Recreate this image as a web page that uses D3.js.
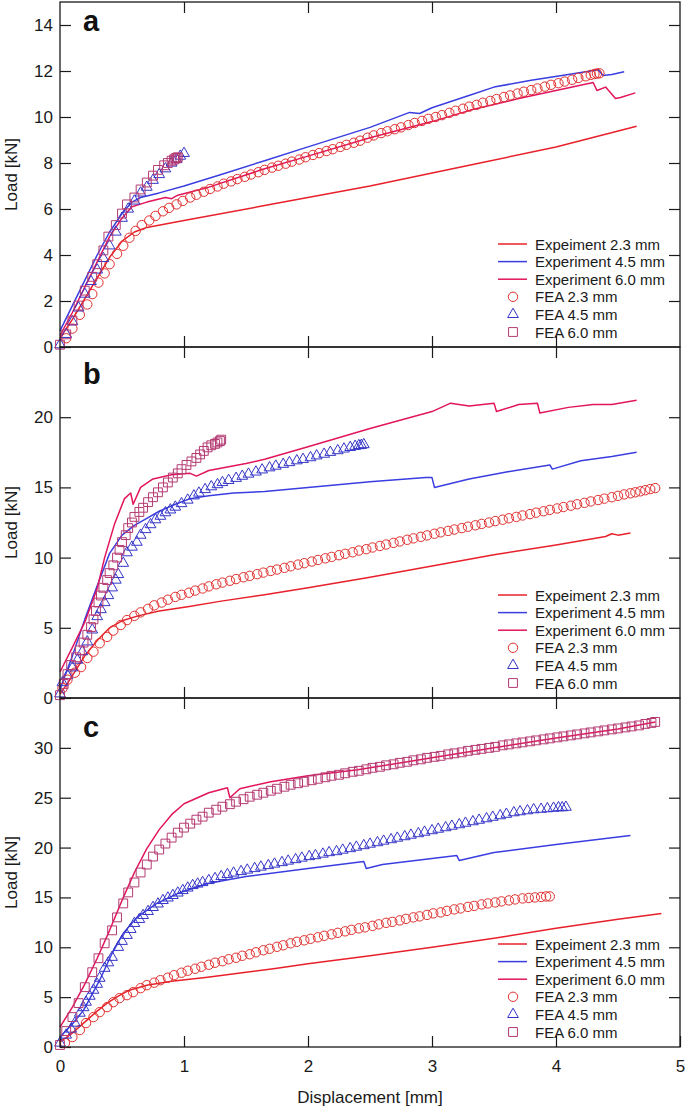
<!DOCTYPE html>
<html lang="en">
<head>
<meta charset="UTF-8">
<title>Load vs displacement</title>
<script src="https://d3js.org/d3.v7.min.js"></script>
<style>
  body { margin: 0; background: #fff; }
  svg { display: block; font-family: "Liberation Sans", Arial, sans-serif; }
  .tick text { font-size: 17px; fill: #1a1a1a; }
  .tick line { stroke: #1a1a1a; stroke-width: 1.2; }
</style>
</head>
<body>
<div id="chart"></div>
<script>
// ---- data ----
const legendLabels = ['Expeiment 2.3 mm', 'Experiment 4.5 mm', 'Experiment 6.0 mm', 'FEA 2.3 mm', 'FEA 4.5 mm', 'FEA 6.0 mm'];
const xTicks = [0, 1, 2, 3, 4, 5];
const panelNames = ['a', 'b', 'c'];
const yMax = [15, 25, 35];
const yTicksA = [0, 2, 4, 6, 8, 10, 12, 14];
const yTicksB = [0, 5, 10, 15, 20];
const yTicksC = [0, 5, 10, 15, 20, 25, 30];

// panel a
const aExp23 = [[0,0.4],[0.1,1.2],[0.2,2.1],[0.3,3.0],[0.4,3.9],[0.5,4.6],[0.6,5.0],[0.7,5.2],[1.0,5.5],[1.65,6.15],[2.5,7.0],[3.3,7.9],[4.0,8.7],[4.65,9.6]];
const aExp45 = [[0,0.7],[0.1,1.8],[0.2,2.9],[0.3,4.0],[0.4,5.0],[0.5,5.8],[0.58,6.3],[0.65,6.5],[0.8,6.7],[1.0,7.0],[1.3,7.5],[1.65,8.1],[2.0,8.7],[2.5,9.55],[2.82,10.2],[2.9,10.15],[3.0,10.4],[3.31,10.96],[3.5,11.3],[3.8,11.6],[4.1,11.85],[4.34,12.05],[4.38,11.8],[4.45,11.85],[4.55,11.97]];
const aExp60 = [[0,0.5],[0.1,1.5],[0.2,2.6],[0.3,3.7],[0.4,4.8],[0.5,5.6],[0.58,6.1],[0.7,6.3],[0.85,6.5],[0.9,6.45],[0.95,6.6],[1.2,6.95],[1.65,7.75],[2.0,8.3],[2.5,9.1],[3.0,9.8],[3.31,10.3],[3.7,10.8],[4.0,11.15],[4.3,11.5],[4.33,11.15],[4.4,11.3],[4.48,10.8],[4.52,10.85],[4.64,11.05]];
const aFea23 = [[0.05,0.38],[0.10,0.8],[0.16,1.4],[0.22,1.85],[0.26,2.3],[0.31,2.8],[0.36,3.2],[0.40,3.6],[0.46,4.05],[0.51,4.4],[0.56,4.75],[0.61,5.05],[0.66,5.3],[0.72,5.5],[0.77,5.7],[0.83,5.9],[0.88,6.05],[0.94,6.2],[0.99,6.35],[1.05,6.5],[1.10,6.62],[1.16,6.75],[1.21,6.87],[1.27,6.98],[1.32,7.1],[1.38,7.2],[1.43,7.3],[1.49,7.4],[1.54,7.5],[1.60,7.6],[1.65,7.7],[1.71,7.8],[1.76,7.88],[1.82,7.97],[1.87,8.06],[1.93,8.15],[1.98,8.25],[2.04,8.35],[2.09,8.43],[2.15,8.52],[2.20,8.6],[2.26,8.7],[2.31,8.79],[2.37,8.88],[2.42,8.97],[2.48,9.1],[2.53,9.2],[2.59,9.3],[2.64,9.38],[2.70,9.47],[2.75,9.55],[2.81,9.65],[2.86,9.74],[2.92,9.83],[2.97,9.92],[3.03,10.0],[3.08,10.08],[3.14,10.18],[3.19,10.27],[3.25,10.36],[3.30,10.45],[3.36,10.53],[3.41,10.62],[3.47,10.7],[3.52,10.78],[3.58,10.87],[3.63,10.94],[3.69,11.02],[3.74,11.1],[3.80,11.17],[3.85,11.24],[3.91,11.32],[3.96,11.4],[4.02,11.47],[4.07,11.54],[4.13,11.62],[4.18,11.7],[4.24,11.77],[4.28,11.83],[4.31,11.87],[4.33,11.89],[4.35,11.9]];
const aFea45 = [[0,0.1],[0.05,0.55],[0.1,1.1],[0.15,1.7],[0.2,2.3],[0.25,2.85],[0.3,3.35],[0.35,3.85],[0.4,4.4],[0.45,5.0],[0.5,5.6],[0.55,6.0],[0.6,6.35],[0.65,6.7],[0.7,6.95],[0.75,7.25],[0.8,7.5],[0.85,7.75],[0.9,8.0],[0.94,8.15],[0.97,8.3],[1.0,8.42]];
const aFea60 = [[0,0.1],[0.05,0.55],[0.1,1.15],[0.15,1.8],[0.2,2.45],[0.26,3.05],[0.3,3.6],[0.35,4.2],[0.39,4.8],[0.45,5.3],[0.5,5.8],[0.54,6.2],[0.6,6.5],[0.65,6.85],[0.7,7.15],[0.75,7.45],[0.79,7.7],[0.84,7.9],[0.87,8.0],[0.9,8.1],[0.92,8.15],[0.93,8.2],[0.94,8.22],[0.95,8.25]];

// panel b
const bExp23 = [[0,0.3],[0.05,0.9],[0.1,1.6],[0.2,3.0],[0.3,4.1],[0.4,5.0],[0.5,5.5],[0.63,5.85],[0.8,6.2],[1.03,6.5],[1.3,6.9],[1.65,7.35],[2.0,7.85],[2.5,8.6],[3.0,9.4],[3.5,10.2],[4.0,10.9],[4.4,11.5],[4.45,11.7],[4.5,11.6],[4.6,11.75]];
const bExp45 = [[0,0.6],[0.1,3.0],[0.2,5.6],[0.3,8.0],[0.4,10.3],[0.5,11.6],[0.6,12.3],[0.7,12.8],[0.8,13.3],[0.93,13.8],[1.05,14.2],[1.2,14.4],[1.4,14.6],[1.65,14.7],[2.0,15.0],[2.5,15.4],[2.95,15.7],[3.0,15.7],[3.02,15.0],[3.3,15.6],[3.6,16.1],[3.95,16.6],[3.97,16.3],[4.2,16.9],[4.45,17.2],[4.65,17.5]];
const bExp60 = [[0,1.85],[0.1,3.6],[0.2,5.4],[0.3,7.8],[0.36,10.0],[0.44,12.4],[0.52,14.2],[0.57,14.6],[0.59,13.8],[0.65,15.0],[0.75,15.6],[0.9,15.9],[1.05,16.0],[1.1,15.8],[1.2,16.2],[1.5,16.7],[1.65,17.0],[2.0,17.9],[2.5,19.2],[3.0,20.4],[3.15,21.0],[3.3,20.8],[3.5,21.0],[3.52,20.4],[3.7,20.9],[3.85,21.0],[3.87,20.3],[4.1,20.7],[4.3,20.9],[4.45,20.9],[4.65,21.2]];
const bFea23 = [[0.02,0.7],[0.06,1.3],[0.12,1.8],[0.17,2.2],[0.22,2.85],[0.27,3.3],[0.32,3.9],[0.38,4.35],[0.43,4.8],[0.49,5.2],[0.54,5.55],[0.60,5.85],[0.65,6.1],[0.71,6.35],[0.76,6.6],[0.82,6.8],[0.87,7.0],[0.93,7.2],[0.98,7.35],[1.04,7.5],[1.09,7.65],[1.15,7.8],[1.20,7.95],[1.26,8.1],[1.31,8.22],[1.37,8.35],[1.42,8.47],[1.48,8.6],[1.53,8.7],[1.59,8.82],[1.64,8.93],[1.70,9.05],[1.75,9.15],[1.81,9.27],[1.86,9.38],[1.92,9.5],[1.97,9.6],[2.03,9.72],[2.08,9.83],[2.14,9.95],[2.19,10.05],[2.25,10.17],[2.30,10.27],[2.36,10.38],[2.41,10.5],[2.47,10.6],[2.52,10.72],[2.58,10.83],[2.63,10.93],[2.69,11.05],[2.74,11.15],[2.80,11.27],[2.85,11.37],[2.91,11.48],[2.96,11.58],[3.02,11.7],[3.07,11.8],[3.13,11.9],[3.18,12.0],[3.24,12.1],[3.29,12.2],[3.35,12.3],[3.40,12.4],[3.46,12.5],[3.51,12.6],[3.57,12.7],[3.62,12.8],[3.68,12.9],[3.73,13.0],[3.79,13.1],[3.84,13.2],[3.90,13.3],[3.95,13.4],[4.01,13.5],[4.06,13.6],[4.12,13.7],[4.17,13.8],[4.23,13.9],[4.28,14.0],[4.34,14.1],[4.39,14.2],[4.45,14.3],[4.50,14.4],[4.55,14.5],[4.60,14.58],[4.64,14.65],[4.68,14.72],[4.72,14.8],[4.76,14.88],[4.80,14.95]];
const bFea45 = [[0,0.3],[0.02,1.1],[0.06,1.6],[0.1,2.15],[0.14,2.7],[0.18,3.3],[0.22,4.0],[0.26,4.85],[0.30,5.8],[0.33,6.3],[0.36,6.8],[0.39,7.3],[0.42,7.85],[0.45,8.4],[0.47,8.8],[0.51,9.6],[0.54,10.35],[0.58,10.75],[0.62,11.1],[0.65,11.6],[0.69,12.0],[0.73,12.35],[0.77,12.7],[0.81,12.95],[0.85,13.2],[0.89,13.4],[0.93,13.6],[0.98,13.85],[1.03,14.1],[1.08,14.4],[1.12,14.6],[1.17,14.85],[1.22,15.05],[1.27,15.2],[1.31,15.35],[1.36,15.5],[1.42,15.65],[1.47,15.8],[1.52,15.95],[1.58,16.1],[1.63,16.25],[1.69,16.4],[1.74,16.52],[1.80,16.65],[1.85,16.77],[1.91,16.9],[1.96,17.0],[2.02,17.12],[2.07,17.25],[2.13,17.37],[2.18,17.5],[2.24,17.62],[2.29,17.74],[2.34,17.85],[2.38,17.93],[2.41,17.98],[2.43,18.0],[2.45,18.05]];
const bFea60 = [[0,0.2],[0.03,1.0],[0.06,1.7],[0.09,2.35],[0.13,2.9],[0.16,3.4],[0.19,3.95],[0.22,4.5],[0.25,5.05],[0.27,5.6],[0.29,6.2],[0.31,6.8],[0.33,7.3],[0.35,7.85],[0.38,8.4],[0.40,8.9],[0.43,9.45],[0.46,10.0],[0.48,10.55],[0.50,11.1],[0.53,11.6],[0.55,12.1],[0.58,12.5],[0.60,12.9],[0.64,13.25],[0.67,13.55],[0.71,13.95],[0.75,14.3],[0.79,14.65],[0.83,15.0],[0.87,15.35],[0.91,15.7],[0.95,16.0],[0.98,16.3],[1.02,16.6],[1.06,16.85],[1.10,17.1],[1.13,17.35],[1.16,17.6],[1.19,17.85],[1.22,18.0],[1.25,18.1],[1.27,18.2],[1.29,18.3],[1.30,18.4]];

// panel c
const cExp23 = [[0,0.5],[0.1,1.4],[0.19,2.4],[0.3,3.6],[0.38,4.4],[0.47,5.1],[0.56,5.7],[0.7,6.2],[0.9,6.6],[1.19,7.0],[1.5,7.5],[1.75,7.9],[2.0,8.35],[2.5,9.15],[3.0,10.0],[3.5,10.9],[4.0,11.9],[4.5,12.8],[4.85,13.4]];
const cExp45 = [[0,1.0],[0.1,2.3],[0.19,3.7],[0.32,6.7],[0.42,9.4],[0.51,11.4],[0.62,13.0],[0.78,14.4],[0.97,15.5],[1.19,16.4],[1.5,17.1],[2.0,17.9],[2.45,18.6],[2.47,17.9],[2.6,18.3],[3.0,18.9],[3.2,19.2],[3.22,18.7],[3.5,19.5],[4.0,20.3],[4.6,21.2]];
const cExp60 = [[0,2.0],[0.1,4.0],[0.2,6.3],[0.3,8.9],[0.4,11.7],[0.5,14.7],[0.6,17.5],[0.7,19.9],[0.8,21.8],[0.9,23.3],[1.0,24.4],[1.2,25.5],[1.35,26.0],[1.37,25.0],[1.45,25.9],[1.7,26.6],[2.0,27.2],[2.4,27.8],[3.0,29.0],[3.5,30.0],[4.0,31.0],[4.5,31.9],[4.8,32.6]];
const cFea23 = [[0.04,0.4],[0.10,1.0],[0.16,1.7],[0.21,2.4],[0.27,3.0],[0.32,3.5],[0.38,4.0],[0.43,4.5],[0.48,4.9],[0.54,5.2],[0.59,5.5],[0.65,5.9],[0.70,6.2],[0.76,6.45],[0.81,6.7],[0.87,6.95],[0.92,7.2],[0.98,7.45],[1.03,7.65],[1.09,7.85],[1.14,8.05],[1.20,8.25],[1.25,8.45],[1.31,8.6],[1.36,8.8],[1.42,8.95],[1.47,9.15],[1.53,9.3],[1.58,9.5],[1.64,9.7],[1.69,9.85],[1.75,10.05],[1.80,10.2],[1.86,10.4],[1.91,10.55],[1.97,10.7],[2.02,10.85],[2.08,11.0],[2.13,11.15],[2.19,11.3],[2.24,11.45],[2.30,11.6],[2.35,11.75],[2.41,11.9],[2.46,12.0],[2.52,12.15],[2.57,12.3],[2.63,12.45],[2.68,12.55],[2.74,12.7],[2.79,12.85],[2.85,13.0],[2.90,13.1],[2.96,13.25],[3.01,13.4],[3.07,13.5],[3.12,13.65],[3.18,13.8],[3.23,13.9],[3.29,14.05],[3.34,14.15],[3.40,14.3],[3.45,14.4],[3.51,14.5],[3.56,14.6],[3.62,14.7],[3.67,14.8],[3.73,14.9],[3.78,14.95],[3.83,15.0],[3.88,15.05],[3.92,15.1],[3.95,15.1]];
const cFea45 = [[0,0.4],[0.05,1.2],[0.09,1.8],[0.12,2.4],[0.16,3.4],[0.19,3.95],[0.21,4.5],[0.24,5.1],[0.27,5.7],[0.30,6.3],[0.32,6.9],[0.36,7.9],[0.39,8.45],[0.42,9.0],[0.47,10.0],[0.50,10.6],[0.54,11.2],[0.57,11.8],[0.60,12.4],[0.64,12.8],[0.67,13.2],[0.71,13.6],[0.75,14.0],[0.79,14.35],[0.83,14.7],[0.87,14.95],[0.91,15.2],[0.95,15.45],[0.99,15.7],[1.03,15.95],[1.07,16.2],[1.11,16.35],[1.15,16.5],[1.20,16.7],[1.25,16.9],[1.30,17.1],[1.35,17.3],[1.40,17.45],[1.46,17.6],[1.51,17.75],[1.57,17.9],[1.62,18.05],[1.68,18.2],[1.73,18.35],[1.79,18.5],[1.84,18.65],[1.90,18.8],[1.95,18.95],[2.01,19.1],[2.06,19.2],[2.12,19.35],[2.17,19.5],[2.23,19.6],[2.28,19.75],[2.34,19.9],[2.39,20.05],[2.45,20.2],[2.50,20.35],[2.56,20.5],[2.61,20.65],[2.67,20.8],[2.72,20.95],[2.78,21.1],[2.83,21.25],[2.89,21.4],[2.94,21.55],[3.00,21.7],[3.05,21.85],[3.11,22.0],[3.16,22.15],[3.22,22.3],[3.27,22.45],[3.33,22.6],[3.38,22.75],[3.44,22.9],[3.49,23.05],[3.55,23.2],[3.60,23.35],[3.66,23.5],[3.71,23.6],[3.77,23.7],[3.82,23.8],[3.88,23.85],[3.93,23.9],[3.98,23.95],[4.02,24.0],[4.05,24.0],[4.08,24.05]];
const cFea60 = [[0,0.2],[0.05,1.6],[0.10,3.0],[0.15,4.4],[0.20,6.0],[0.26,7.5],[0.31,8.9],[0.36,10.4],[0.42,11.7],[0.46,13.0],[0.51,14.4],[0.55,15.5],[0.60,16.5],[0.65,17.5],[0.70,18.3],[0.75,19.1],[0.80,19.8],[0.85,20.4],[0.90,21.0],[0.95,21.5],[1.00,22.0],[1.05,22.4],[1.10,22.8],[1.15,23.1],[1.20,23.5],[1.26,23.8],[1.31,24.1],[1.37,24.35],[1.42,24.6],[1.48,24.85],[1.53,25.1],[1.59,25.3],[1.64,25.5],[1.70,25.7],[1.75,25.9],[1.81,26.1],[1.86,26.3],[1.92,26.45],[1.97,26.6],[2.03,26.75],[2.08,26.9],[2.14,27.05],[2.19,27.2],[2.25,27.3],[2.30,27.45],[2.36,27.6],[2.41,27.7],[2.47,27.85],[2.52,28.0],[2.58,28.1],[2.63,28.25],[2.69,28.35],[2.74,28.5],[2.80,28.6],[2.85,28.75],[2.91,28.85],[2.96,29.0],[3.02,29.1],[3.07,29.2],[3.13,29.35],[3.18,29.45],[3.24,29.55],[3.29,29.7],[3.35,29.8],[3.40,29.9],[3.46,30.0],[3.51,30.1],[3.57,30.25],[3.62,30.35],[3.68,30.45],[3.73,30.55],[3.79,30.65],[3.84,30.75],[3.90,30.85],[3.95,30.95],[4.01,31.05],[4.06,31.15],[4.12,31.25],[4.17,31.35],[4.23,31.45],[4.28,31.55],[4.34,31.65],[4.39,31.75],[4.45,31.85],[4.50,31.95],[4.56,32.05],[4.61,32.15],[4.67,32.25],[4.72,32.4],[4.77,32.5],[4.80,32.6]];

// ---- drawing ----
const W = 685, H = 1110;
const left = 60, right = 680;
const panelTops = [2, 347, 698];
const panelBottoms = [347, 698, 1047];
const nameBaselines = [31, 384, 737];
const lineColors = ['#e8202a', '#3a3ee0', '#e2155c'];
const markColors = ['#e0302e', '#3535c8', '#b43a72'];
const tickLen = 11;

const panels = [
  { exps: [aExp23, aExp45, aExp60], feas: [aFea23, aFea45, aFea60], yTicks: yTicksA },
  { exps: [bExp23, bExp45, bExp60], feas: [bFea23, bFea45, bFea60], yTicks: yTicksB },
  { exps: [cExp23, cExp45, cExp60], feas: [cFea23, cFea45, cFea60], yTicks: yTicksC }
];

const svg = d3.select('#chart').append('svg')
  .attr('width', W).attr('height', H);

const x = d3.scaleLinear().domain([0, 5]).range([left, right]);

const symbols = [
  d3.symbol().type(d3.symbolCircle).size(Math.PI * 4.7 * 4.7),
  d3.symbol().type(d3.symbolTriangle).size(50),
  d3.symbol().type(d3.symbolSquare).size(78)
];

panels.forEach((p, i) => {
  const top = panelTops[i], bottom = panelBottoms[i];
  const y = d3.scaleLinear().domain([0, yMax[i]]).range([bottom, top]);
  const g = svg.append('g');

  // left axis with labels, ticks pointing inward
  g.append('g')
    .attr('transform', `translate(${left},0)`)
    .call(d3.axisLeft(y).tickValues(p.yTicks).tickSize(-tickLen).tickPadding(7).tickFormat(d3.format('d')))
    .call(a => a.select('.domain').remove());
  // right mirror ticks
  g.append('g')
    .attr('transform', `translate(${right},0)`)
    .call(d3.axisRight(y).tickValues(p.yTicks.slice(1)).tickSize(-tickLen).tickFormat(''))
    .call(a => a.select('.domain').remove());
  // top ticks
  g.append('g')
    .attr('transform', `translate(0,${top})`)
    .call(d3.axisTop(x).tickValues(xTicks.slice(1, -1)).tickSize(-tickLen).tickFormat(''))
    .call(a => a.select('.domain').remove());
  // bottom ticks (labels only under the last panel)
  const bottomAxis = d3.axisBottom(x).tickSize(-tickLen).tickPadding(13);
  if (i === 2) bottomAxis.tickValues(xTicks).tickFormat(d3.format('d'));
  else bottomAxis.tickValues(xTicks.slice(1, -1)).tickFormat('');
  g.append('g')
    .attr('transform', `translate(0,${bottom})`)
    .call(bottomAxis)
    .call(a => a.select('.domain').remove());

  // experiment curves
  const line = d3.line().x(d => x(d[0])).y(d => y(d[1]));
  p.exps.forEach((s, k) => {
    g.append('path')
      .datum(s)
      .attr('fill', 'none')
      .attr('stroke', lineColors[k])
      .attr('stroke-width', 1.5)
      .attr('stroke-linejoin', 'round')
      .attr('d', line);
  });

  // FEA markers
  p.feas.forEach((s, k) => {
    g.append('g').selectAll('path')
      .data(s)
      .join('path')
      .attr('transform', d => `translate(${x(d[0])},${y(d[1])})`)
      .attr('d', symbols[k])
      .attr('fill', 'none')
      .attr('stroke', markColors[k])
      .attr('stroke-width', 1);
  });

  // frame
  g.append('rect')
    .attr('x', left).attr('y', top)
    .attr('width', right - left).attr('height', bottom - top)
    .attr('fill', 'none').attr('stroke', '#1a1a1a').attr('stroke-width', 1.3);

  // panel letter
  g.append('text')
    .attr('x', 83).attr('y', nameBaselines[i])
    .attr('font-size', 29).attr('font-weight', 'bold')
    .attr('fill', '#111')
    .text(panelNames[i]);

  // y label
  g.append('text')
    .attr('transform', `translate(17,${(top + bottom) / 2}) rotate(-90)`)
    .attr('text-anchor', 'middle')
    .attr('font-size', 17)
    .attr('fill', '#1a1a1a')
    .text('Load [kN]');

  // legend
  const lg = g.append('g').attr('transform', `translate(0,${bottom - 103})`);
  legendLabels.forEach((lab, k) => {
    const ry = k * 17.6;
    if (k < 3) {
      lg.append('line')
        .attr('x1', 498).attr('x2', 527).attr('y1', ry).attr('y2', ry)
        .attr('stroke', lineColors[k]).attr('stroke-width', 1.5);
    } else {
      lg.append('path')
        .attr('transform', `translate(513,${ry})`)
        .attr('d', symbols[k - 3])
        .attr('fill', 'none')
        .attr('stroke', markColors[k - 3])
        .attr('stroke-width', 1);
    }
    lg.append('text')
      .attr('x', 535).attr('y', ry + 5.5)
      .attr('font-size', 15)
      .attr('fill', '#1a1a1a')
      .text(lab);
  });
});

svg.append('text')
  .attr('x', (left + right) / 2).attr('y', 1103)
  .attr('text-anchor', 'middle')
  .attr('font-size', 17)
  .attr('fill', '#1a1a1a')
  .text('Displacement [mm]');
</script>
</body>
</html>
